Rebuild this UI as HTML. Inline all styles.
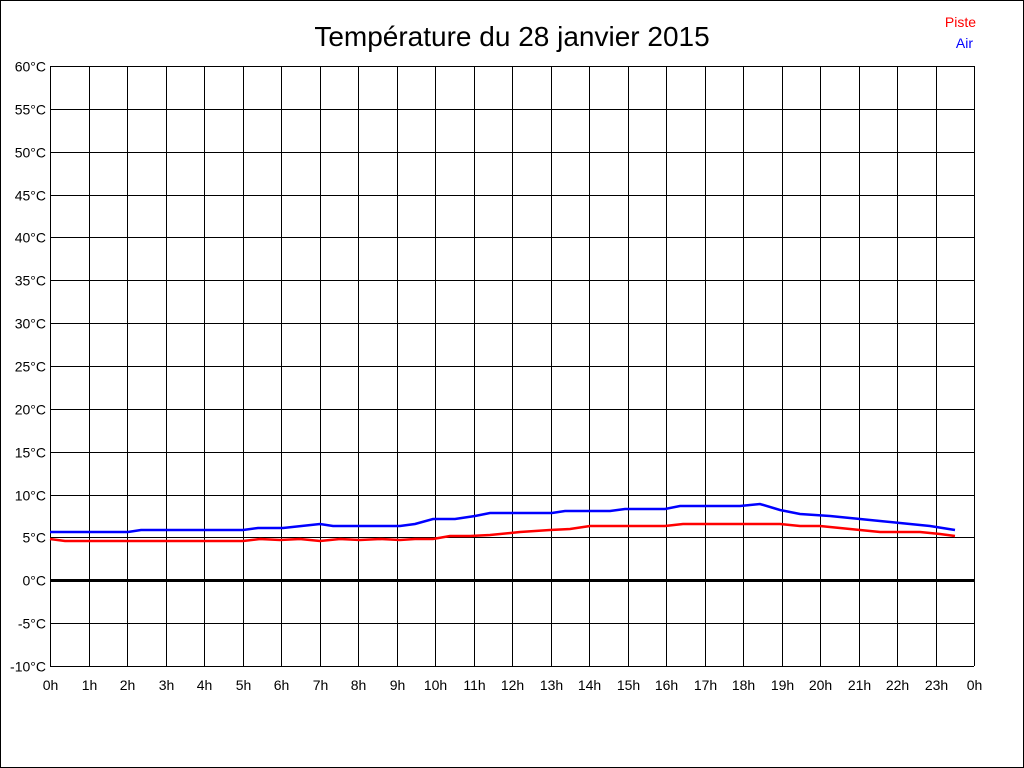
<!DOCTYPE html>
<html><head><meta charset="utf-8"><style>body{margin:0;background:#fff}svg{display:block}</style></head><body>
<svg width="1024" height="768" xmlns="http://www.w3.org/2000/svg" font-family="Liberation Sans, Arial, sans-serif">
<rect x="0.5" y="0.5" width="1023" height="767" fill="#fff" stroke="#000"/>
<text x="512" y="46" font-size="28" text-anchor="middle">Température du 28 janvier 2015</text>
<text x="976" y="27" font-size="14" fill="#f00" text-anchor="end">Piste</text>
<text x="973" y="48" font-size="14" fill="#00f" text-anchor="end">Air</text>
<g stroke="#000" stroke-width="1" id="grid"></g>
<g id="labels" font-size="14"></g>
<polyline fill="none" stroke="#f00" stroke-width="2.5" points="50,539 65,541 243,541 260,539 280,540 300,539 320,541 340,539 360,540 380,539 400,540 415,539 433,539 450,536 470,536 490,535 520,532 550,530 570,529 590,526 665,526 683,524 780,524 800,526 820,526 840,528 860,530 880,532 920,532 940,534 955,536"/>
<polyline fill="none" stroke="#00f" stroke-width="2.5" points="50,532 128,532 141,530 243,530 258,528 283,528 320,524 333,526 400,526 415,524 433,519 455,519 475,516 490,513 552,513 565,511 610,511 625,509 665,509 680,506 740,506 760,504 780,510 800,514 830,516 850,518 880,521 900,523 930,526 955,530"/>
<script>
var g=document.getElementById('grid'),l=document.getElementById('labels'),ns='http://www.w3.org/2000/svg';
function el(p,t,a){var e=document.createElementNS(ns,t);for(var k in a)e.setAttribute(k,a[k]);p.appendChild(e);return e;}
for(var i=0;i<=14;i++){var y=66+i*600/14;y=Math.round(y)+0.5;var v=60-5*i;
el(g,'line',{x1:50,x2:974,y1:y,y2:y,'stroke-width':v==0?3:1});
var t=el(l,'text',{x:46,y:y+5,'text-anchor':'end'});t.textContent=v+'°C';}
for(var j=0;j<=24;j++){var x=Math.round(50+j*38.5)+0.5;
el(g,'line',{x1:x,x2:x,y1:66,y2:666});
var t=el(l,'text',{x:x,y:690,'text-anchor':'middle'});t.textContent=(j%24)+'h';}
</script>
</svg>
</body></html>
